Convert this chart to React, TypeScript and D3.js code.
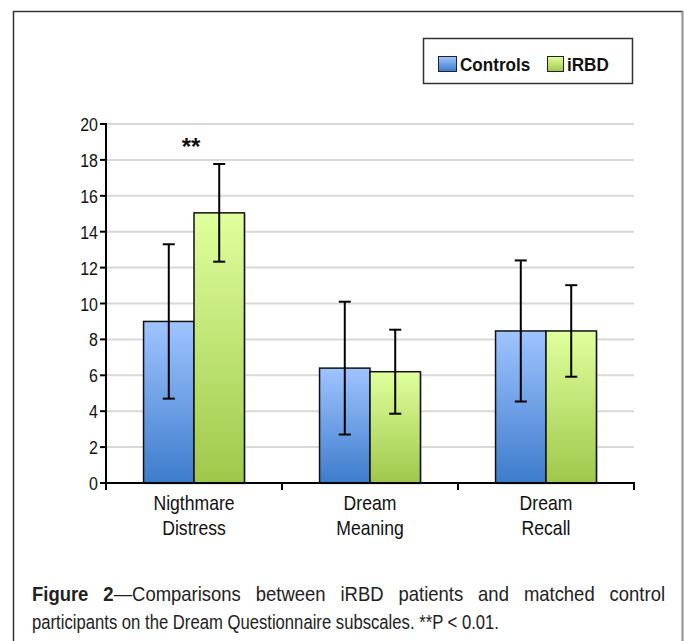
import React, { useEffect, useRef, useState } from "react";
import * as d3 from "d3";

const categories = [["Nigthmare", "Distress"], ["Dream", "Meaning"], ["Dream", "Recall"]];
const seriesNames = ["Controls", "iRBD"];
const controlsMean = [9.0, 6.4, 8.47];
const controlsErr = [4.3, 3.7, 3.93];
const irbdMean = [15.05, 6.2, 8.47];
const irbdErr = [2.72, 2.34, 2.55];
const yTicks = [0, 2, 4, 6, 8, 10, 12, 14, 16, 18, 20];
const annotations = ["**", "", ""];
const captionBold = "Figure 2";
const captionLine1 = "—Comparisons between iRBD patients and matched control";
const captionLine2 = "participants on the Dream Questionnaire subscales. **P < 0.01.";

const W = 684, H = 641;
const left = 106, right = 634, top = 124, bottom = 483;
const font = "'Liberation Sans', Arial, sans-serif";

function CText(props: { x: number; y: number; sx: number; anchor?: string; size: number; weight?: string; fill?: string; children: React.ReactNode }) {
  return (
    <text
      transform={`translate(${props.x},${props.y}) scale(${props.sx},1)`}
      textAnchor={props.anchor || "start"}
      fontFamily={font}
      fontSize={props.size}
      fontWeight={props.weight || "normal"}
      fill={props.fill || "#111"}
    >
      {props.children}
    </text>
  );
}

export default function App() {
  const y = d3.scaleLinear().domain([0, 20]).range([bottom, top]);
  const x0 = d3.scaleBand().domain(categories.map((c) => c.join(" "))).range([left, right]).paddingInner(0.4268).paddingOuter(0.2134);
  const x1 = d3.scaleBand().domain(seriesNames).range([0, x0.bandwidth()]);
  const series = [
    { name: "Controls", mean: controlsMean, err: controlsErr, grad: "gC" },
    { name: "iRBD", mean: irbdMean, err: irbdErr, grad: "gI" },
  ];
  const step = (right - left) / categories.length;
  const catTicks = d3.range(categories.length + 1).map((i) => left + i * step);

  const capSx = 0.9;
  const line1Ref = useRef<SVGTextElement>(null);
  const [ws, setWs] = useState(0);
  useEffect(() => {
    const el = line1Ref.current;
    if (!el) return;
    const natural = el.getComputedTextLength();
    const spaces = (captionBold + captionLine1).split(" ").length - 1;
    const target = 633 / capSx;
    setWs(Math.max(0, (target - natural) / spaces));
  }, []);

  return (
    <svg width={W} height={H} style={{ position: "absolute", left: 0, top: 0, background: "#fff" }}>
      <defs>
        <linearGradient id="gC" x1="0" y1="0" x2="0" y2="1">
          <stop offset="0" stopColor="#9fc4ff" />
          <stop offset="1" stopColor="#3d7ccc" />
        </linearGradient>
        <linearGradient id="gI" x1="0" y1="0" x2="0" y2="1">
          <stop offset="0" stopColor="#e0ff9e" />
          <stop offset="1" stopColor="#9fc84a" />
        </linearGradient>
      </defs>
      <rect x={13.5} y={11.5} width={669} height={700} fill="#fff" stroke="#333" strokeWidth={1.5} />
      <line x1={682.5} y1={11} x2={682.5} y2={641} stroke="#999" strokeWidth={1.5} />

      {yTicks.slice(1).map((t) => (
        <line key={"g" + t} x1={left} x2={right} y1={y(t)} y2={y(t)} stroke="#d9d9d9" strokeWidth={2} />
      ))}

      {categories.map((c, i) => (
        <g key={"c" + i} transform={`translate(${x0(c.join(" "))},0)`}>
          {series.map((s) => (
            <g key={s.name}>
              <rect x={x1(s.name)! + 1.5} y={y(s.mean[i]) + 1.5} width={x1.bandwidth()} height={bottom - y(s.mean[i])} fill="#bbb" opacity={0.6} />
              <rect x={x1(s.name)} y={y(s.mean[i])} width={x1.bandwidth()} height={bottom - y(s.mean[i])} fill={`url(#${s.grad})`} stroke="#111" strokeWidth={1.5} />
            </g>
          ))}
          {series.map((s) => {
            const cx = x1(s.name)! + x1.bandwidth() / 2;
            return (
              <g key={"e" + s.name} stroke="#000" strokeWidth={2}>
                <line x1={cx} x2={cx} y1={y(s.mean[i] + s.err[i])} y2={y(s.mean[i] - s.err[i])} />
                <line x1={cx - 6} x2={cx + 6} y1={y(s.mean[i] + s.err[i])} y2={y(s.mean[i] + s.err[i])} />
                <line x1={cx - 6} x2={cx + 6} y1={y(s.mean[i] - s.err[i])} y2={y(s.mean[i] - s.err[i])} />
              </g>
            );
          })}
          {annotations[i] && (
            <CText x={x0.bandwidth() / 2 - 3} y={y(18.3)} sx={1} anchor="middle" size={24} weight="bold">
              {annotations[i]}
            </CText>
          )}
          <CText x={x0.bandwidth() / 2} y={510} sx={0.88} anchor="middle" size={20}>{c[0]}</CText>
          <CText x={x0.bandwidth() / 2} y={535} sx={0.88} anchor="middle" size={20}>{c[1]}</CText>
        </g>
      ))}

      <line x1={left} x2={left} y1={top - 1} y2={bottom} stroke="#000" strokeWidth={2} />
      {yTicks.map((t) => (
        <g key={"t" + t}>
          <line x1={left - 6} x2={left} y1={y(t)} y2={y(t)} stroke="#000" strokeWidth={2} />
          <CText x={left - 8} y={y(t) + 7} sx={0.84} anchor="end" size={19}>{t}</CText>
        </g>
      ))}
      <line x1={left - 6} x2={right + 1} y1={bottom} y2={bottom} stroke="#000" strokeWidth={2} />
      {catTicks.map((t, i) => (
        <line key={"ct" + i} x1={t} x2={t} y1={bottom} y2={bottom + 7} stroke="#000" strokeWidth={2} />
      ))}

      <rect x={423.5} y={38.5} width={209} height={45} fill="#fff" stroke="#333" strokeWidth={1.5} />
      <rect x={438.5} y={56.5} width={18} height={15} fill="url(#gC)" stroke="#222" strokeWidth={1} />
      <CText x={460} y={70.5} sx={0.9} size={19} weight="bold">{seriesNames[0]}</CText>
      <rect x={547.5} y={56.5} width={16} height={15} fill="url(#gI)" stroke="#222" strokeWidth={1} />
      <CText x={567} y={70.5} sx={0.9} size={19} weight="bold">{seriesNames[1]}</CText>

      <text ref={line1Ref} transform={`translate(32,601) scale(${capSx},1)`} fontFamily={font} fontSize={20.5} fill="#222" wordSpacing={ws}>
        <tspan fontWeight="bold">{captionBold}</tspan>{captionLine1}
      </text>
      <text x={32} y={629} fontFamily={font} fontSize={20.5} fill="#222" textLength={467} lengthAdjust="spacingAndGlyphs">
        {captionLine2}
      </text>
    </svg>
  );
}
